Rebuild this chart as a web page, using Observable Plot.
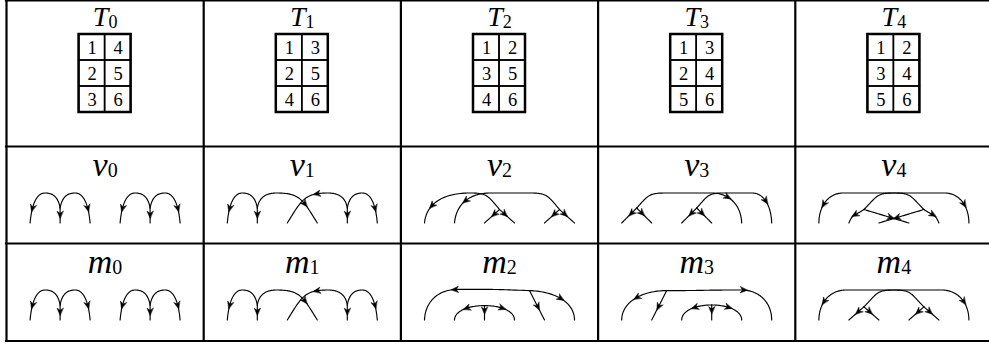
<!DOCTYPE html>
<html><head><meta charset="utf-8">
<script src="https://cdn.jsdelivr.net/npm/d3@7"></script>
<script src="https://cdn.jsdelivr.net/npm/@observablehq/plot@0.6"></script>
<style>body{margin:0;background:#fff}</style>
</head><body><div id="chart"></div>
<script>
// ---- content ----
const tableaux = [
  [[1,4],[2,5],[3,6]],
  [[1,3],[2,5],[4,6]],
  [[1,2],[3,5],[4,6]],
  [[1,3],[2,4],[5,6]],
  [[1,2],[3,4],[5,6]]
];
const rowLetters = ["T", "v", "m"];
const colSubscripts = ["0", "1", "2", "3", "4"];

// web legs: [arrow position along leg, knot, knot, ...]; knot = [point-index x, height, tangent angle°]
const web0 = [
  [0.75, [2,0.5,100], [1.5,1,180], [1,0,-95]],
  [0.45, [2,0.5], [2,0]],
  [0.75, [2,0.5,80], [2.5,1,0], [3,0,-85]],
  [0.75, [5,0.5,100], [4.5,1,180], [4,0,-95]],
  [0.45, [5,0.5], [5,0]],
  [0.75, [5,0.5,80], [5.5,1,0], [6,0,-85]]
];
const web1 = [
  [0.75, [2,0.5,100], [1.5,1,180], [1,0,-95]],
  [0.45, [2,0.5], [2,0]],
  [0.72, [2,0.5,80], [2.65,1,0], [4,0,-58]],
  [0.47, [5,0.5,100], [4.35,1,180], [3,0,-122]],
  [0.45, [5,0.5], [5,0]],
  [0.75, [5,0.5,80], [5.5,1,0], [6,0,-85]]
];
const web2 = [
  [0.8, [3.5,0.45,130], [2.5,1,180], [1,0,-95]],
  [0.35, [3.5,0.45], [3,0]],
  [0.35, [3.5,0.45], [4,0]],
  [0.8, [5.5,0.45,130], [4.5,1,180], [3.2,1,180], [2,0,-95]],
  [0.35, [5.5,0.45], [5,0]],
  [0.35, [5.5,0.45], [6,0]]
];
const web3 = [
  [0.35, [1.5,0.5], [1,0]],
  [0.35, [1.5,0.5], [2,0]],
  [0.76, [1.5,0.5,48], [2.5,1,0], [4.0,1,0], [5,0,-88]],
  [0.35, [3.5,0.5], [3,0]],
  [0.35, [3.5,0.5], [4,0]],
  [0.77, [3.5,0.5,48], [4.4,1,0], [5.35,1,0], [6,0,-88]]
];
const web4 = [
  [0.5, [2.5,0.45,-145], [2,0,-112]],
  [0.6, [2.5,0.45], [4,0]],
  [0.85, [2.5,0.45,45], [3.5,1,0], [5.2,1,0], [6,0,-90]],
  [0.5, [4.5,0.45,-35], [5,0,-68]],
  [0.6, [4.5,0.45], [3,0]],
  [0.85, [4.5,0.45,135], [3.5,1,180], [1.8,1,180], [1,0,-90]]
];
const webM2 = [
  [0.61, [4.5,0.98,178], [2.1,1.02,180], [1,0,-92]],
  [0.55, [4.5,0.98], [5,0]],
  [0.55, [4.5,0.98,-2], [6,0,-90]],
  [0.5, [3,0.48,180], [2,0,-90]],
  [0.35, [3,0.48], [3,0]],
  [0.5, [3,0.48,0], [4,0,-90]]
];
const webM3 = [
  [0.52, [2.5,0.98,180], [1,0,-90]],
  [0.55, [2.5,0.98], [2,0]],
  [0.63, [2.5,0.98,0], [5,1,0], [6,0,-90]],
  [0.47, [4,0.5,180], [3,0,-90]],
  [0.35, [4,0.5], [4,0]],
  [0.47, [4,0.5,0], [5,0,-90]]
];
const webM4 = [
  [0.38, [2.5,0.44], [2,0]],
  [0.38, [2.5,0.44], [3,0]],
  [0.85, [2.5,0.44,45], [3.5,1,0], [5.1,1,0], [6,0,-90]],
  [0.38, [4.5,0.44], [4,0]],
  [0.38, [4.5,0.44], [5,0]],
  [0.85, [4.5,0.44,135], [3.5,1,180], [1.9,1,180], [1,0,-90]]
];
const vWebs = [web0, web1, web2, web3, web4];
const mWebs = [web0, web1, webM2, webM3, webM4];

// ---- layout ----
const W = 989, H = 344;
const left = 6, colW = 197.2;
const rowLines = [0, 146, 243, 340.5];
const colLines = d3.range(6).map(i => left + i * colW);
const cx = c => left + colW * (c + 0.5);
const S = 30;           // web unit in px
const KAPPA = 0.58;

function legPath(knots) {
  const pts = [];
  for (let s = 0; s < knots.length - 1; s++) {
    const [x0, h0, a0] = knots[s], [x1, h1, a1] = knots[s + 1];
    const dx = x1 - x0, dh = h1 - h0, len = Math.hypot(dx, dh);
    const dir = a => a === undefined ? [dx / len, dh / len] : [Math.cos(a * Math.PI / 180), Math.sin(a * Math.PI / 180)];
    const d0 = dir(a0), d1 = dir(a1);
    const l0 = KAPPA * Math.abs(dx * d0[0] + dh * d0[1]);
    const l1 = KAPPA * Math.abs(dx * d1[0] + dh * d1[1]);
    const P = [[x0, h0], [x0 + l0 * d0[0], h0 + l0 * d0[1]], [x1 - l1 * d1[0], h1 - l1 * d1[1]], [x1, h1]];
    const n = 40;
    for (let i = (s === 0 ? 0 : 1); i <= n; i++) {
      const t = i / n, u = 1 - t;
      const b = [u * u * u, 3 * u * u * t, 3 * u * t * t, t * t * t];
      pts.push([
        b[0] * P[0][0] + b[1] * P[1][0] + b[2] * P[2][0] + b[3] * P[3][0],
        b[0] * P[0][1] + b[1] * P[1][1] + b[2] * P[2][1] + b[3] * P[3][1]
      ]);
    }
  }
  return pts;
}

const legRows = [], arrowRows = [];
[[1, vWebs], [2, mWebs]].forEach(([r, webs]) => {
  const base = rowLines[r] + 76.5;
  webs.forEach((web, c) => {
    web.forEach((leg, j) => {
      const [t, ...knots] = leg;
      const pts = legPath(knots).map(([x, h]) => [cx(c) + (x - 3.5) * S, base - h * S]);
      const id = `${r}-${c}-${j}`;
      pts.forEach(([x, y]) => legRows.push({id, x, y}));
      // arrow at fraction t of length
      const cum = [0];
      for (let i = 1; i < pts.length; i++) cum.push(cum[i - 1] + Math.hypot(pts[i][0] - pts[i - 1][0], pts[i][1] - pts[i - 1][1]));
      const target = t * cum[cum.length - 1];
      let i = 1; while (i < pts.length - 1 && cum[i] < target) i++;
      const f = (target - cum[i - 1]) / (cum[i] - cum[i - 1] || 1);
      const px = pts[i - 1][0] + f * (pts[i][0] - pts[i - 1][0]);
      const py = pts[i - 1][1] + f * (pts[i][1] - pts[i - 1][1]);
      const a = pts[Math.max(0, i - 2)], b = pts[Math.min(pts.length - 1, i + 1)];
      const dl = Math.hypot(b[0] - a[0], b[1] - a[1]);
      const ux = (b[0] - a[0]) / dl, uy = (b[1] - a[1]) / dl, nx = -uy, ny = ux;
      const L = 3.6, Wd = 3.1, notch = 1.4;
      const aid = "a" + id;
      [[L, 0], [-L, Wd], [-notch, 0], [-L, -Wd]].forEach(([p, q]) =>
        arrowRows.push({id: aid, x: px + ux * p + nx * q, y: py + uy * p + ny * q}));
    });
  });
});

// tableaux
const tabCells = [], tabBoxes = [], tabNums = [];
const cell = 26;
tableaux.forEach((tab, c) => {
  const x0 = cx(c) - cell, y0 = rowLines[0] + 34;
  tabBoxes.push({x1: x0, x2: x0 + 2 * cell, y1: y0, y2: y0 + 3 * cell});
  tab.forEach((row, i) => row.forEach((v, j) => {
    tabCells.push({x1: x0 + j * cell, x2: x0 + (j + 1) * cell, y1: y0 + i * cell, y2: y0 + (i + 1) * cell});
    tabNums.push({x: x0 + (j + 0.5) * cell, y: y0 + (i + 0.5) * cell + 1, text: String(v)});
  }));
});

// labels
const letterSize = [28, 34, 34], subSize = [18, 20, 20];
const adv = {T: 0.556, v: 0.444, m: 0.722};
const baseOff = [25, 29.5, 29.5], subOff = [27.5, 30.5, 30.5];
const labelMarks = [];
rowLetters.forEach((L, r) => {
  const wL = letterSize[r] * adv[L], wS = subSize[r] * 0.5;
  const letters = colSubscripts.map((s, c) => ({x: cx(c) + (wL - wS) / 2, y: rowLines[r] + baseOff[r], text: L}));
  const subs = colSubscripts.map((s, c) => ({x: cx(c) + (wL - wS) / 2, y: rowLines[r] + subOff[r], text: s}));
  labelMarks.push(Plot.text(letters, {x: "x", y: "y", text: "text", textAnchor: "end", lineAnchor: "bottom",
    fontFamily: "Liberation Serif", fontStyle: "italic", fontSize: letterSize[r], fill: "black"}));
  labelMarks.push(Plot.text(subs, {x: "x", y: "y", text: "text", textAnchor: "start", lineAnchor: "bottom",
    fontFamily: "Liberation Serif", fontSize: subSize[r], fill: "black"}));
});

const chart = Plot.plot({
  width: W, height: H, margin: 0,
  x: {domain: [0, W], range: [0, W], axis: null},
  y: {domain: [0, H], range: [0, H], axis: null},
  style: {background: "white"},
  marks: [
    Plot.ruleY(rowLines, {y: d => d, x1: left, x2: left + 5 * colW, stroke: "black", strokeWidth: 2.2, strokeLinecap: "square"}),
    Plot.ruleX(colLines, {x: d => d, y1: rowLines[0], y2: rowLines[3], stroke: "black", strokeWidth: 2.2, strokeLinecap: "square"}),
    Plot.rect(tabCells, {x1: "x1", x2: "x2", y1: "y1", y2: "y2", fill: "none", stroke: "black", strokeWidth: 1.5}),
    Plot.rect(tabBoxes, {x1: "x1", x2: "x2", y1: "y1", y2: "y2", fill: "none", stroke: "black", strokeWidth: 2.5}),
    Plot.text(tabNums, {x: "x", y: "y", text: "text", fontFamily: "Liberation Serif", fontSize: 18.5, fill: "black"}),
    Plot.line(legRows, {x: "x", y: "y", z: "id", stroke: "black", strokeWidth: 1.15, curve: "linear"}),
    Plot.line(arrowRows, {x: "x", y: "y", z: "id", fill: "black", stroke: "black", strokeWidth: 0.5, curve: "linear-closed"}),
    ...labelMarks
  ]
});
document.getElementById("chart").append(chart);
</script>
</body></html>
